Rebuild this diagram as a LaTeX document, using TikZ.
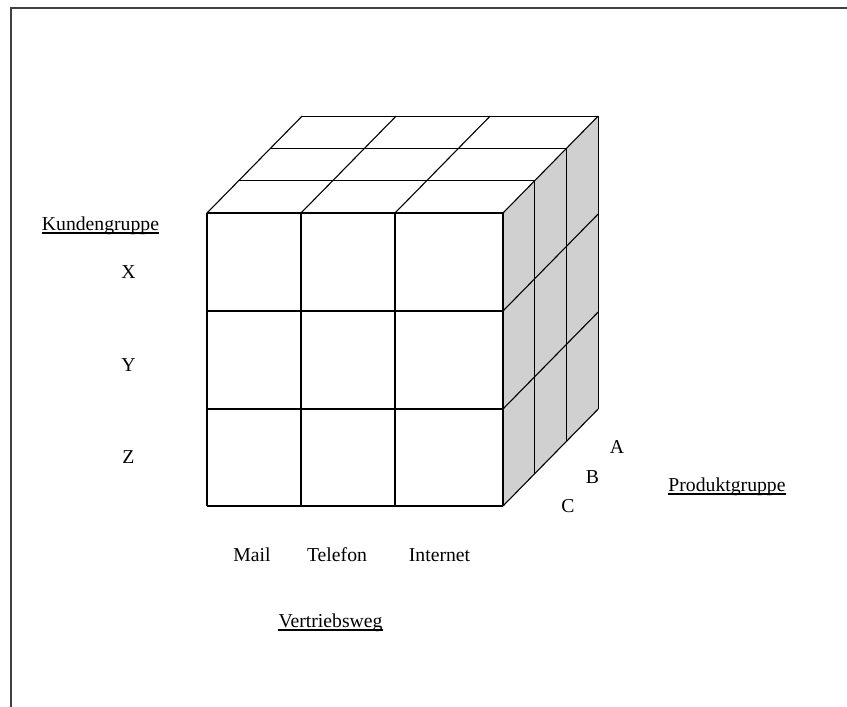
\documentclass[tikz,border=0pt]{standalone}
\usepackage{fontspec}
\setmainfont{Liberation Serif}
\usepackage{tikz}
\usetikzlibrary{positioning}
\definecolor{sidegray}{RGB}{208,208,208}
\tikzset{
  lbl/.style    ={anchor=base, inner sep=0pt, font=\fontsize{19.7}{24}\selectfont},
  grid/.style   ={line width=1.1pt, line join=miter},
  frame/.style  ={line width=2pt, draw=black!75},
  uline/.style  ={line width=1.2pt},
}

\begin{document}
\begin{tikzpicture}[x=1pt,y=-1pt]
  \useasboundingbox (0,0) rectangle (847,707);
  \draw[frame] (11,707) -- (11,8) -- (847,8);
  \def\dx{31.7}
  \def\dy{32.3}
  % right side
  \fill[sidegray] (503,213) -- ++(3*\dx,-3*\dy) -- ++(0,293) -- (503,506) -- cycle;
  % front
  \foreach \x in {207,301,395,503} {
    \draw[grid] (\x,213) -- (\x,506);
  }
  \foreach \y in {213,311,409,506} {
    \draw[grid] (207,\y) -- (503,\y);
  }
  % top
  \foreach \k in {1,2,3} {
    \draw[grid] (207+\k*\dx,213-\k*\dy) -- (503+\k*\dx,213-\k*\dy);
  }
  \foreach \x in {207,301,395,503} {
    \draw[grid] (\x,213) -- ++(3*\dx,-3*\dy);
  }
  % right
  \foreach \k in {1,2,3} {
    \draw[grid] (503+\k*\dx,213-\k*\dy) -- ++(0,293);
  }
  \foreach \y in {311,409,506} {
    \draw[grid] (503,\y) -- ++(3*\dx,-3*\dy);
  }

  \node[lbl] (kgruppe) at (100.5,230) {Kundengruppe};
  \node[lbl] (kx) at (128.5,278) {X};
  \node[lbl] (ky) at (128.5,371) {Y};
  \node[lbl] (kz) at (128.5,463) {Z};
  \node[lbl] (vmail) at (252,561) {Mail};
  \node[lbl] (vtel) at (337,561) {Telefon};
  \node[lbl] (vnet) at (439.5,561) {Internet};
  \node[lbl] (vweg) at (330.5,627) {Vertriebsweg};
  \node[lbl] (pa) at (617,453) {A};
  \node[lbl] (pb) at (592.5,483) {B};
  \node[lbl] (pc) at (568,512) {C};
  \node[lbl] (pgruppe) at (727,491) {Produktgruppe};
  \foreach \n in {kgruppe,vweg,pgruppe} {
    \draw[uline] ([yshift=-3pt]\n.base west) -- ([yshift=-3pt]\n.base east);
  }
\end{tikzpicture}
\end{document}
